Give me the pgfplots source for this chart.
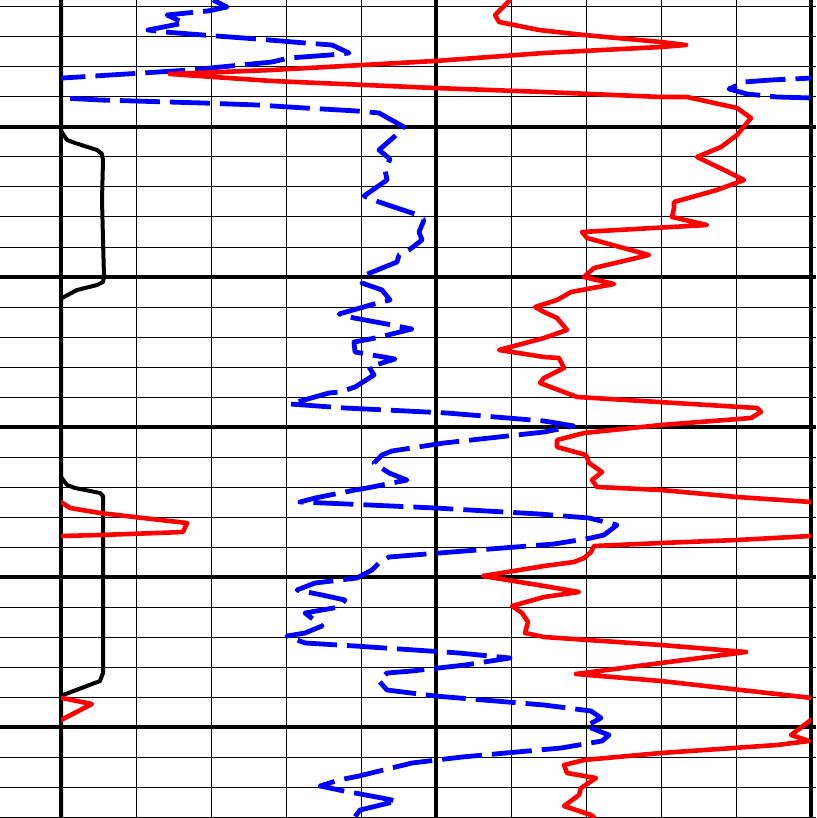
\documentclass[border=0pt]{standalone}
\usepackage{pgfplots}
\usepackage{pgfplotstable}
\pgfplotsset{compat=1.18}

\pgfplotstableread{
x y
213 0
227 7
208 11
197 12
167 15
184 23
148 30
165 32
203 35
257 39
305 43
332 45
349 53
330 55
289 58
272 62
190 70
63 78
21 80
-6 82
-21 89
-3 94
27 97
63 98
100 100
203 103
257 105
305 108
357 111
379 113
404 127
395 136
379 150
390 159
385 170
387 180
364 196
379 202
415 214
424 220
419 232
422 240
409 250
399 255
397 262
365 275
362 283
382 290
390 300
374 304
339 314
354 318
392 325
412 329
380 337
365 340
354 342
355 352
372 355
395 359
369 367
374 375
355 387
340 392
329 393
290 404
345 408
447 413
544 421
574 426
544 432
444 443
392 451
382 455
374 463
389 473
407 480
367 488
355 490
315 498
300 502
347 504
435 508
539 514
589 518
617 525
604 535
591 538
554 544
439 553
389 557
379 563
372 570
357 578
315 583
297 590
322 595
345 600
339 607
322 610
305 613
322 626
305 633
287 636
305 643
355 646
459 653
510 658
465 665
412 671
387 673
379 681
387 690
435 696
544 705
591 711
601 718
586 726
609 735
602 741
561 748
462 757
412 763
359 776
339 780
320 786
344 791
382 798
397 801
360 810
354 818
}\bluedata

\pgfplotstableread{
x y
510 0
495 15
499 22
539 30
584 35
661 42
686 45
661 47
544 53
435 61
272 70
170 74
272 81
435 88
544 92
661 97
687 97
737 108
751 118
737 135
721 147
697 157
724 170
744 180
717 190
674 202
674 208
672 217
707 225
582 232
587 238
649 255
594 268
584 277
614 284
571 292
557 300
535 307
544 312
557 318
567 330
544 338
499 350
544 357
559 358
564 368
544 378
540 383
577 397
757 408
761 412
751 418
661 425
584 433
557 440
557 447
586 455
589 463
602 472
592 480
597 487
661 490
737 497
811 502
820 508
850 513
893 518
937 523
933 532
907 533
850 535
811 536
737 540
661 543
594 546
591 552
584 558
574 562
544 566
483 576
544 586
579 592
544 597
512 606
522 613
528 622
525 633
544 637
661 645
746 652
661 663
576 674
661 681
812 698
842 704
811 720
791 735
809 741
777 745
661 753
584 760
564 765
567 773
596 778
581 788
579 795
564 806
591 815
595 818
}\reddata

\pgfplotstableread{
x y
61 0
61 130
63 134
67 140
75 143
97 150
102 154
103 160
102 200
103 240
104 277
103 282
97 285
77 290
62 298
61 300
61 477
67 485
75 488
100 493
103 496
103 673
100 681
63 695
61 697
61 818
}\blackdata

\begin{document}
\begin{tikzpicture}
\begin{axis}[name=ax,
  scale only axis, width=408pt, height=409pt,
  xmin=0, xmax=816, ymin=0, ymax=818, y dir=reverse,
  xtick={61,436,811},
  minor xtick={136,211,286,361,511,586,661,736},
  ytick={127,277,427,577,727},
  minor ytick={7,37,67,97,157,187,217,247,307,337,367,397,457,487,517,547,607,637,667,697,757,787,817},
  grid=both,
  major grid style={black, line width=2.3pt},
  minor grid style={black, line width=0.5pt},
  axis line style={draw=none},
  tick style={draw=none},
  xticklabels={}, yticklabels={},
]
\end{axis}
\begin{axis}[
  at={(30.5pt,0pt)}, anchor=south west,
  scale only axis, width=375pt, height=409pt,
  xmin=61, xmax=811, ymin=0, ymax=818, y dir=reverse,
  axis lines=none, ticks=none, clip=true,
]
\addplot[black, line width=2pt, line join=round] table[x=x,y=y]{\blackdata};
\addplot[blue, line width=2.4pt, dash pattern=on 20pt off 5pt, line join=round] table[x=x,y=y]{\bluedata};
\addplot[blue, line width=2.4pt, dash pattern=on 20pt off 5pt, line join=round] table[x expr=\thisrow{x}+750,y=y]{\bluedata};
\addplot[red, line width=2.3pt, line join=round] table[x=x,y=y]{\reddata};
\addplot[red, line width=2.3pt, line join=round] table[x expr=\thisrow{x}-750,y=y]{\reddata};
\end{axis}
\pgfresetboundingbox
\useasboundingbox (ax.south west) rectangle (ax.north east);
\end{tikzpicture}
\end{document}
